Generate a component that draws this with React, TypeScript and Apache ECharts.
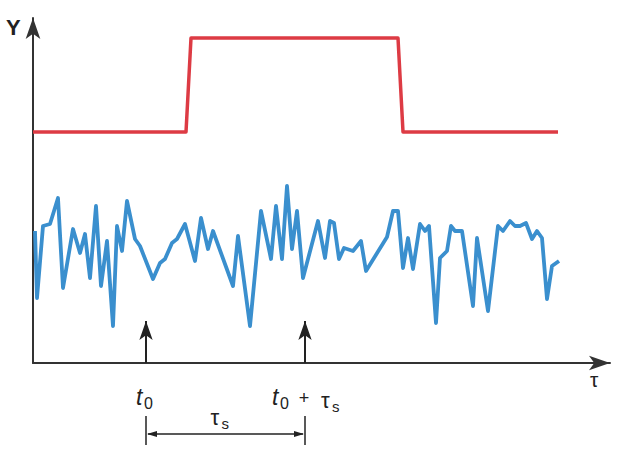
import React, { useEffect, useRef } from "react";
import * as echarts from "echarts";

// τ (horizontal) and Y (vertical) values
const stepTau = [0, 153, 158, 365, 370, 525];
const stepY = [231, 231, 325, 325, 231, 231];

const noiseTau = [
  2, 4, 10, 17, 25, 30, 40, 47, 52, 57, 63, 68, 74, 80, 84, 89, 94, 102, 107, 120,
  127, 132, 139, 144, 152, 162, 168, 175, 180, 200, 205, 217, 228, 238, 243, 249, 254, 259, 264, 270,
  285, 292, 297, 301, 306, 311, 320, 328, 333, 354, 360, 365, 370, 375, 380, 387, 392, 396, 403, 407,
  414, 418, 422, 429, 440, 444, 455, 465, 470, 477, 482, 487, 493, 499, 504, 509, 514, 519, 526,
];
const noiseY = [
  132, 65, 137, 139, 165, 75, 134, 110, 129, 85, 157, 77, 122, 37, 137, 112, 162, 124, 117, 84,
  100, 104, 120, 124, 139, 102, 145, 114, 132, 77, 127, 37, 152, 104, 157, 104, 177, 114, 152, 85,
  142, 105, 142, 140, 104, 115, 112, 122, 92, 126, 152, 152, 95, 125, 94, 139, 132, 137, 40, 105,
  112, 137, 132, 132, 57, 125, 52, 137, 132, 142, 137, 137, 140, 124, 132, 125, 64, 97, 102,
];

const T0 = 113;
const TS = 159;
const ARROW_H = 42;
const X_MAX = 577;
const Y_MAX = 342;

const INK = "#222222";
const FONT = "Liberation Sans";

export default function App() {
  const ref = useRef<HTMLDivElement>(null);

  useEffect(() => {
    if (!ref.current) return;
    const chart = echarts.init(ref.current, undefined, { renderer: "svg" });
    const axisCommon = {
      type: "value" as const,
      axisTick: { show: false },
      axisLabel: { show: false },
      splitLine: { show: false },
      axisLine: {
        show: true,
        symbol: ["none", "arrow"],
        symbolSize: [11, 21],
        lineStyle: { color: "#333333", width: 2 },
      },
    };
    chart.setOption({
      animation: false,
      grid: { left: 33, top: 18, width: 577, height: 345 },
      xAxis: { ...axisCommon, min: 0, max: X_MAX },
      yAxis: { ...axisCommon, min: 0, max: Y_MAX + 3 },
      series: [
        {
          type: "line",
          data: stepTau.map((t, i) => [t, stepY[i]]),
          showSymbol: false,
          lineStyle: { color: "#dd3b44", width: 3.5, join: "round" },
        },
        {
          type: "line",
          data: noiseTau.map((t, i) => [t, noiseY[i]]),
          showSymbol: false,
          lineStyle: { color: "#3a8fce", width: 3.8, join: "round" },
        },
        {
          type: "line",
          data: [],
          markLine: {
            silent: true,
            symbol: ["none", "arrow"],
            symbolSize: [10, 19],
            label: { show: false },
            lineStyle: { color: INK, width: 2, type: "solid" },
            data: [
              [{ coord: [T0, 0] }, { coord: [T0, ARROW_H] }],
              [{ coord: [T0 + TS, 0] }, { coord: [T0 + TS, ARROW_H] }],
            ],
          },
        },
      ],
    });

    const p0 = chart.convertToPixel({ gridIndex: 0 }, [T0, 0]) as number[];
    const p1 = chart.convertToPixel({ gridIndex: 0 }, [T0 + TS, 0]) as number[];
    const yBase = p0[1];
    const dimY = yBase + 71;
    const txt = (
      x: number,
      y: number,
      s: string,
      size: number,
      italic = false,
      align = "left",
      weight = "normal"
    ) => ({
      type: "text",
      x,
      y,
      style: {
        text: s,
        fontSize: size,
        fontFamily: FONT,
        fontStyle: italic ? "italic" : "normal",
        fontWeight: weight,
        fill: INK,
        textAlign: align,
        textVerticalAlign: "top",
      },
    });
    const x0 = p0[0];
    const x1 = p1[0];
    chart.setOption({
      graphic: [
        txt(6, 16, "Y", 22, false, "left", "bold"),
        txt(590, 369, "τ", 21),
        txt(x0 - 10, yBase + 22, "t", 23, true),
        txt(x0 - 2, yBase + 32, "0", 16),
        txt(x1 - 33, yBase + 22, "t", 23, true),
        txt(x1 - 25, yBase + 32, "0", 16),
        txt(x1 - 1, yBase + 26, "+", 18, false, "center"),
        txt(x1 + 16, yBase + 26, "τ", 22),
        txt(x1 + 27, yBase + 36, "s", 15),
        txt((x0 + x1) / 2 - 15, dimY - 28, "τ", 22),
        txt((x0 + x1) / 2 - 4, dimY - 18, "s", 15),
        { type: "line", shape: { x1: x0, y1: dimY - 18, x2: x0, y2: dimY + 11 }, style: { stroke: INK, lineWidth: 1.5 } },
        { type: "line", shape: { x1: x1, y1: dimY - 18, x2: x1, y2: dimY + 11 }, style: { stroke: INK, lineWidth: 1.5 } },
        { type: "line", shape: { x1: x0 + 2, y1: dimY, x2: x1 - 2, y2: dimY }, style: { stroke: INK, lineWidth: 1.5 } },
        { type: "polygon", shape: { points: [[x0 + 1, dimY], [x0 + 11, dimY - 3], [x0 + 11, dimY + 3]] }, style: { fill: INK } },
        { type: "polygon", shape: { points: [[x1 - 1, dimY], [x1 - 11, dimY - 3], [x1 - 11, dimY + 3]] }, style: { fill: INK } },
      ],
    });

    return () => chart.dispose();
  }, []);

  return (
    <div
      ref={ref}
      style={{ position: "fixed", left: 0, top: 0, width: 617, height: 461, background: "#ffffff" }}
    />
  );
}
